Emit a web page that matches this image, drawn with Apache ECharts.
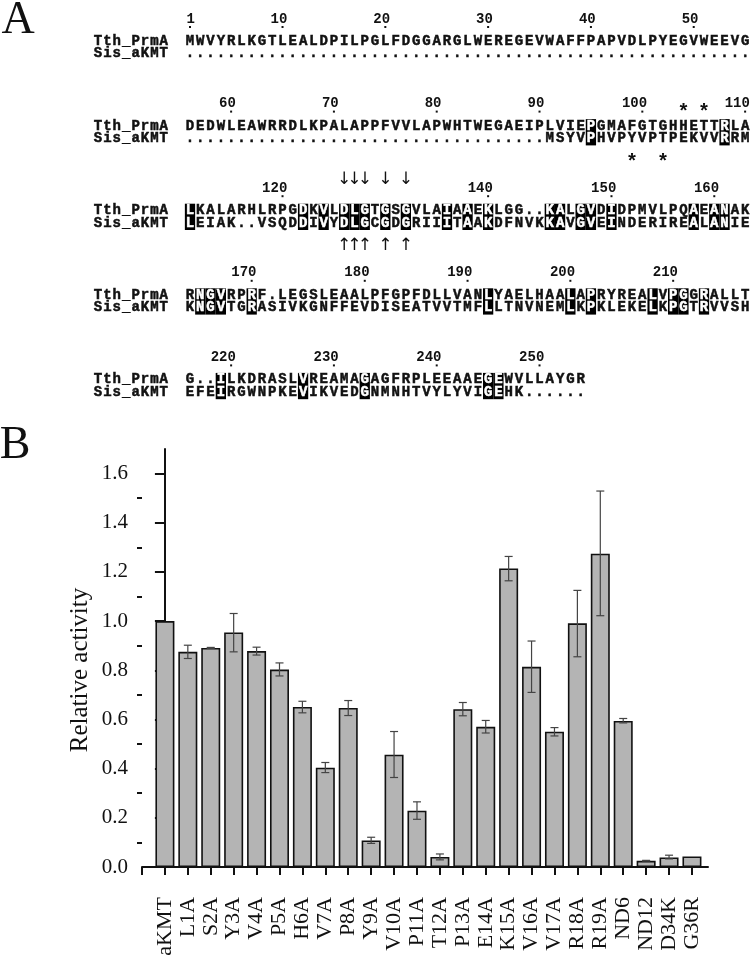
<!DOCTYPE html>
<html><head><meta charset="utf-8">
<script src="https://cdn.jsdelivr.net/npm/echarts@6/dist/echarts.min.js"></script>
<style>html,body{margin:0;padding:0;background:#fff}#c{width:750px;height:959px}</style>
</head><body><div id="c"></div>
<script>
// ---------- Panel B data ----------
const categories = ['aKMT','L1A','S2A','Y3A','V4A','P5A','H6A','V7A','P8A','Y9A','V10A','P11A','T12A','P13A','E14A','K15A','V16A','V17A','R18A','R19A','ND6','ND12','D34K','G36R'];
const activity  = [1.000,0.875,0.891,0.954,0.878,0.803,0.651,0.404,0.647,0.108,0.457,0.229,0.041,0.642,0.570,1.214,0.814,0.550,0.991,1.274,0.594,0.025,0.039,0.043];
const errLow    = [null,0.848,0.889,0.875,0.862,0.777,0.627,0.384,0.616,0.096,0.364,0.194,0.029,0.615,0.545,1.164,0.710,0.533,0.855,1.022,0.586,0.024,0.033,null];
const errHigh   = [null,0.902,0.893,1.031,0.894,0.830,0.674,0.425,0.677,0.121,0.551,0.265,0.053,0.669,0.596,1.263,0.919,0.567,1.125,1.529,0.604,0.027,0.048,null];
const yMajorTicks = [0,0.2,0.4,0.6,0.8,1.0,1.2,1.4,1.6];
const yMinorTicks = [0.1,0.3,0.5,0.7,0.9,1.1,1.3,1.5];
const yAxisTitle = 'Relative activity';

// ---------- Panel A data ----------
const seqNames = ['Tth_PrmA','Sis_aKMT'];
const tthRows = [
 'MWVYRLKGTLEALDPILPGLFDGGARGLWEREGEVWAFFPAPVDLPYEGVWEEVG',
 'DEDWLEAWRRDLKPALAPPFVVLAPWHTWEGAEIPLVIEPGMAFGTGHHETTRLA',
 'LKALARHLRPGDKVLDLGTGSGVLAIAAEKLGG..KALGVDIDPMVLPQAEANAK',
 'RNGVRPRF.LEGSLEAALPFGPFDLLVANLYAELHAALAPRYREALVPGGRALLT',
 'G..ILKDRASLVREAMAGAGFRPLEEAAEGEWVLLAYGR'
];
const sisRows = [
 '.......................................................',
 '...................................MSYVPHVPYVPTPEKVVRRM',
 'LEIAK..VSQDDIVYDLGCGDGRIIITAAKDFNVKKAVGVEINDERIREALANIE',
 'KNGVTGRASIVKGNFFEVDISEATVVTMFLLTNVNEMLKPKLEKELKPGTRVVSH',
 'EFEIRGWNPKEVIKVEDGNMNHTVYLYVIGEHK......'
];
const numberLabels = [
 ['1','10','20','30','40','50'],
 ['60','70','80','90','100','110'],
 ['120','140','150','160'],
 ['170','180','190','200','210'],
 ['220','230','240','250']
];
const numberCols = [
 [0,9,19,29,39,49],
 [4,14,24,34,44,54],
 [9,29,41,51],
 [6,17,27,37,47],
 [4,14,24,34]
];
const highlightCols = [
 [],
 [39,52],
 [0,11,13,15,16,17,19,21,25,27,29,35,36,38,39,41,49,51,52],
 [1,2,3,6,29,37,39,45,47,48,50],
 [3,11,17,29,30]
];
const arrowCols = [[],[],[15,16,17,19,21],[],[]];
const starTopCols = [[],[48,50],[],[],[]];
const starBottomCols = [[],[43,46],[],[],[]];

// ---------- layout (styles/positions) ----------
const colX0 = 190, colW = 10.28;
const nameX0 = 98, nameW = 9.4;
const blockY0 = 41.5, blockDY = 84.6, rowDY = 12.4;
const seqFont = 'bold 14px "Liberation Mono"';
const colX = i => colX0 + colW * i;

const g = [];
function txt(x, y, s, font, fill, align, heavy, rot) {
  const st = {text:s, font:font, fill:fill || '#111', align: align || 'center', verticalAlign:'middle',
              textAlign: align || 'center', textVerticalAlign:'middle'};
  if (heavy) { st.stroke = fill || '#111'; st.lineWidth = 0.5; }
  const el = {type:'text', silent:true, z: 20, x: x, y: y, style: st};
  if (rot) el.rotation = rot;
  g.push(el);
}
for (let b = 0; b < tthRows.length; b++) {
  const yT = blockY0 + blockDY * b, yS = yT + rowDY;
  const hl = new Set(highlightCols[b]);
  highlightCols[b].forEach(c => {
    g.push({type:'rect', silent:true, z:10, shape:{x: colX(c) - colW/2, y: yT - 7, width: colW, height: rowDY * 2 + 1.5}, style:{fill:'#000'}});
  });
  [yT, yS].forEach((y, r) => {
    const nm = seqNames[r];
    for (let j = 0; j < nm.length; j++) txt(nameX0 + nameW * j, y, nm[j], seqFont, '#111', 'center', true);
  });
  [[tthRows[b], yT], [sisRows[b], yS]].forEach(([s, y]) => {
    for (let i = 0; i < s.length; i++) txt(colX(i), y, s[i], seqFont, hl.has(i) ? '#fff' : '#111', 'center', true);
  });
  numberLabels[b].forEach((lab, k) => {
    const c = numberCols[b][k];
    txt(colX(c) + 4.8, yT - 22.5, lab, 'bold 14px "Liberation Mono"', '#111', 'right');
    g.push({type:'rect', silent:true, z:20, shape:{x: colX(c) - 1, y: yT - 15.5, width: 2, height: 2}, style:{fill:'#111'}});
  });
  arrowCols[b].forEach(c => {
    txt(colX(c), yT - 31, '\u2193', '17px "DejaVu Sans"');
    txt(colX(c), yS + 22.5, '\u2191', '17px "DejaVu Sans"');
  });
  starTopCols[b].forEach(c => txt(colX(c), yT - 18.3 + 5, '*', 'bold 20px "Liberation Mono"'));
  starBottomCols[b].forEach(c => txt(colX(c), yS + 19.8 + 5, '*', 'bold 20px "Liberation Mono"'));
}
txt(18, 21, 'A', '46px "Liberation Serif"', '#111', 'center');
txt(15, 446, 'B', '46px "Liberation Serif"', '#111', 'center');
// y-axis title (rotated text)
txt(80, 670, yAxisTitle, '25px "Liberation Serif"', '#111', 'center', false, Math.PI / 2);

// ---------- chart ----------
const chart = echarts.init(document.getElementById('c'), null, {renderer:'canvas'});
const barData = categories.map((c, i) => [i, activity[i]]);
const errData = [];
categories.forEach((c, i) => { if (errLow[i] != null) errData.push([i, errLow[i], errHigh[i]]); });
const xTickVals = [-1].concat(categories.map((c, i) => i));
const xLabelVals = categories.map((c, i) => i);
const serif = '"Liberation Serif", "Times New Roman", serif';

chart.setOption({
  animation: false,
  backgroundColor: '#fff',
  graphic: g,
  grid: {left: 142, right: 42, top: 449, bottom: 92},
  xAxis: {
    type: 'value', min: -1, max: 23.7, interval: 1,
    splitLine: {show: false},
    axisLine: {show: true, onZero: false, lineStyle: {color: '#111', width: 2}},
    axisTick: {show: true, customValues: xTickVals, length: 8, lineStyle: {color: '#111', width: 2}},
    axisLabel: {customValues: xLabelVals, rotate: 90, margin: 30, color: '#111',
      fontFamily: serif, fontSize: 22, formatter: v => categories[Math.round(v)] || ''}
  },
  yAxis: [{
    type: 'value', min: 0, max: 1.7, interval: 0.2, position: 'left',
    splitLine: {show: false},
    axisLine: {show: true, lineStyle: {color: '#111', width: 2}},
    axisTick: {show: true, customValues: yMajorTicks, length: 10, lineStyle: {color: '#111', width: 2}},
    axisLabel: {customValues: yMajorTicks, margin: 14, color: '#111', fontFamily: serif, fontSize: 21,
      formatter: v => v.toFixed(1)}
  }, {
    type: 'value', min: 0, max: 1.7, position: 'left',
    splitLine: {show: false}, axisLine: {show: false}, axisLabel: {show: false},
    axisTick: {show: true, customValues: yMinorTicks, length: 5, lineStyle: {color: '#111', width: 2}}
  }],
  series: [{
    type: 'bar', data: barData, barWidth: 19,
    itemStyle: {color: '#b4b4b4', borderColor: '#111', borderWidth: 1.6}
  }, {
    type: 'custom', data: errData, encode: {x: 0, y: [1, 2]}, z: 5,
    renderItem: function (params, api) {
      const x = api.value(0);
      const pL = api.coord([x, api.value(1)]), pH = api.coord([x, api.value(2)]);
      const w = 4, st = {stroke: '#444', lineWidth: 1.2};
      return {type: 'group', children: [
        {type: 'line', shape: {x1: pH[0], y1: pH[1], x2: pL[0], y2: pL[1]}, style: st},
        {type: 'line', shape: {x1: pH[0] - w, y1: pH[1], x2: pH[0] + w, y2: pH[1]}, style: st},
        {type: 'line', shape: {x1: pL[0] - w, y1: pL[1], x2: pL[0] + w, y2: pL[1]}, style: st}
      ]};
    }
  }]
});
</script></body></html>
